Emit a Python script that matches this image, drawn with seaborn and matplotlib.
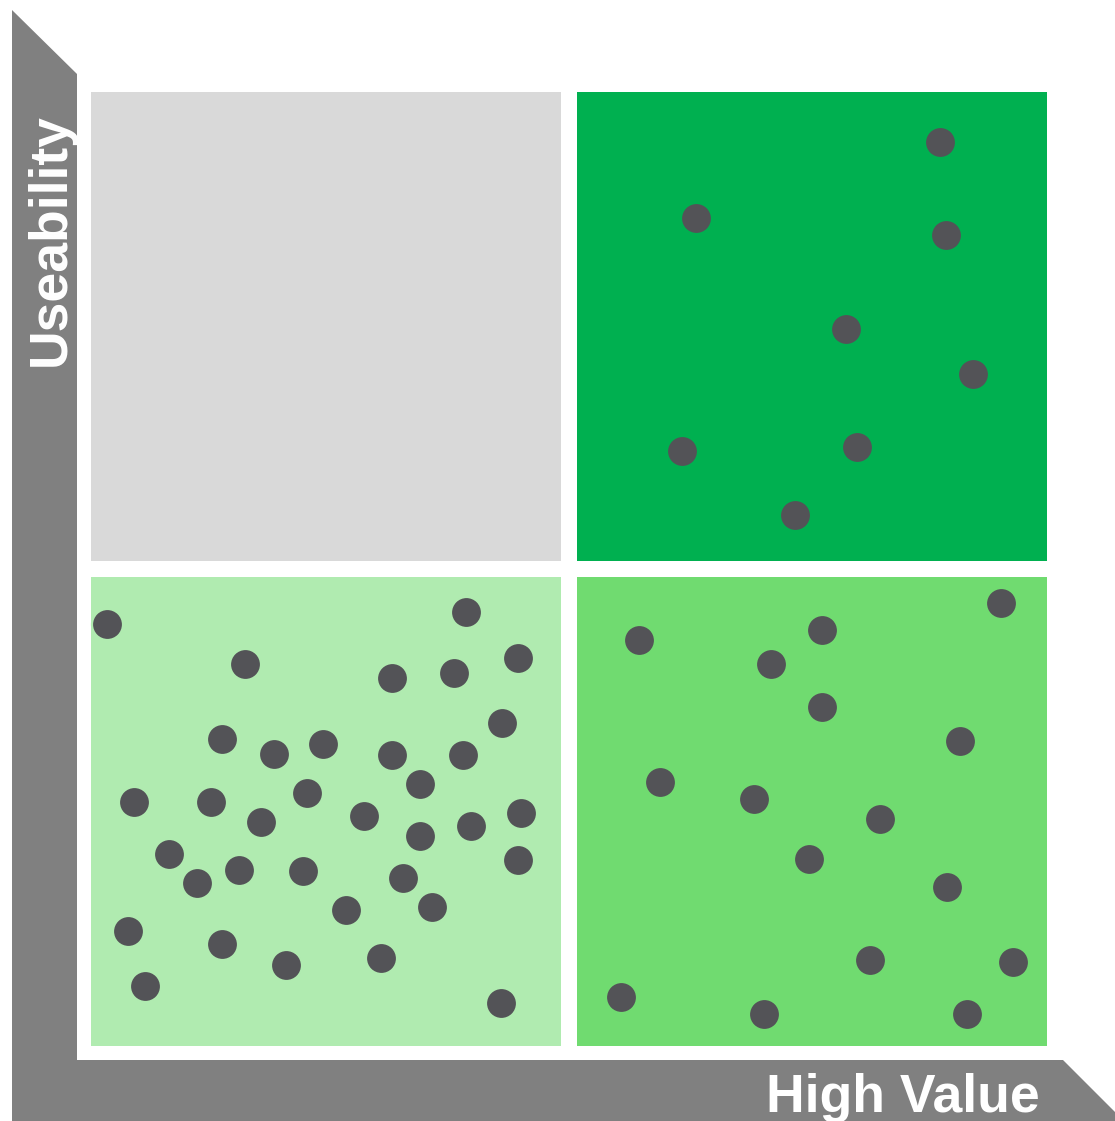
import matplotlib
matplotlib.use("Agg")
import matplotlib.pyplot as plt
from matplotlib.patches import Polygon, Rectangle
import seaborn as sns
import pandas as pd

sns.set_theme(style="white")
plt.rcParams["font.family"] = ["Liberation Sans", "DejaVu Sans"]

# Value (x) and useability (y) scores on a 0-10 scale, split at 5
tr_value = [8.88, 6.33, 8.94, 7.90, 9.23, 6.18, 8.01, 7.36]
tr_use = [9.48, 8.68, 8.50, 7.52, 7.04, 6.24, 6.28, 5.57]

bl_value = [0.17, 3.92, 1.61, 3.15, 3.80, 4.47, 4.30, 1.37, 1.91, 2.43,
            3.15, 3.89, 3.44, 0.45, 1.26, 2.26, 1.78, 2.86, 3.44, 3.97,
            4.50, 0.82, 1.11, 1.55, 2.22, 3.26, 4.47, 3.57, 2.67, 0.39,
            1.37, 2.04, 3.03, 0.56, 4.29]
bl_use = [4.42, 4.55, 4.00, 3.86, 3.91, 4.07, 3.39, 3.22, 3.06, 3.17,
          3.05, 3.05, 2.75, 2.56, 2.56, 2.65, 2.35, 2.41, 2.20, 2.31,
          2.44, 2.01, 1.71, 1.84, 1.83, 1.76, 1.95, 1.46, 1.43, 1.21,
          1.07, 0.85, 0.92, 0.63, 0.45]

br_value = [5.73, 7.11, 7.65, 9.52, 7.65, 9.09, 5.95, 6.94, 8.25, 7.51,
            8.95, 8.15, 9.64, 5.54, 7.04, 9.16]
br_use = [4.26, 4.00, 4.36, 4.64, 3.55, 3.20, 2.77, 2.59, 2.38, 1.96,
          1.67, 0.90, 0.88, 0.51, 0.34, 0.34]

quadrant_colors = {
    "tl": "#D9D9D9",
    "tr": "#00B050",
    "bl": "#B0EBB0",
    "br": "#70DB70",
}
dot_color = "#535357"
arrow_gray = "#808080"

W, H = 1115, 1121
fig = plt.figure(figsize=(W / 100, H / 100), dpi=100)

# Decorative axis arrows drawn in a pixel-space overlay
deco = fig.add_axes([0, 0, 1, 1], zorder=0)
deco.set_xlim(0, W)
deco.set_ylim(H, 0)
deco.axis("off")
deco.add_patch(Polygon([(12, 1060), (1063, 1060), (1115, 1112), (1115, 1121), (12, 1121)],
                       closed=True, facecolor=arrow_gray, edgecolor="none"))
deco.add_patch(Polygon([(12, 10), (77, 74), (77, 1121), (12, 1121)],
                       closed=True, facecolor=arrow_gray, edgecolor="none"))
deco.text(903, 1112, "High Value", color="white", fontsize=38.5, fontweight="bold",
          ha="center", va="baseline")
deco.text(65, 240, "Useability", color="white", fontsize=38.5, fontweight="bold",
          rotation=90, rotation_mode="anchor", ha="center", va="baseline")

# Quadrant chart in data space
ax = fig.add_axes([0, 0, 1, 1], zorder=1)
ax.patch.set_alpha(0)
px_x = 95.6
px_y = 95.4
xlim = (-91 / px_x, (W - 91) / px_x)
ylim = ((1046 - H) / px_y, 1046 / px_y)

half_gap = 0.087
quads = [
    ("tl", 0, 5 + half_gap, 5 - half_gap, 10),
    ("tr", 5 + half_gap, 5 + half_gap, 10, 10),
    ("bl", 0, 0, 5 - half_gap, 5 - half_gap),
    ("br", 5 + half_gap, 0, 10, 5 - half_gap),
]
for key, x0, y0, x1, y1 in quads:
    ax.add_patch(Rectangle((x0, y0), x1 - x0, y1 - y0,
                           facecolor=quadrant_colors[key], edgecolor="none", zorder=1))

for key, xs, ys in [("tr", tr_value, tr_use), ("bl", bl_value, bl_use), ("br", br_value, br_use)]:
    df = pd.DataFrame({"value": xs, "useability": ys})
    sns.scatterplot(data=df, x="value", y="useability", ax=ax, s=500,
                    color=dot_color, edgecolor=quadrant_colors[key], linewidth=1.6,
                    zorder=3, legend=False)
ax.set_xlim(*xlim)
ax.set_ylim(*ylim)
ax.axis("off")

fig.savefig("out.png", dpi=100, facecolor="white")
